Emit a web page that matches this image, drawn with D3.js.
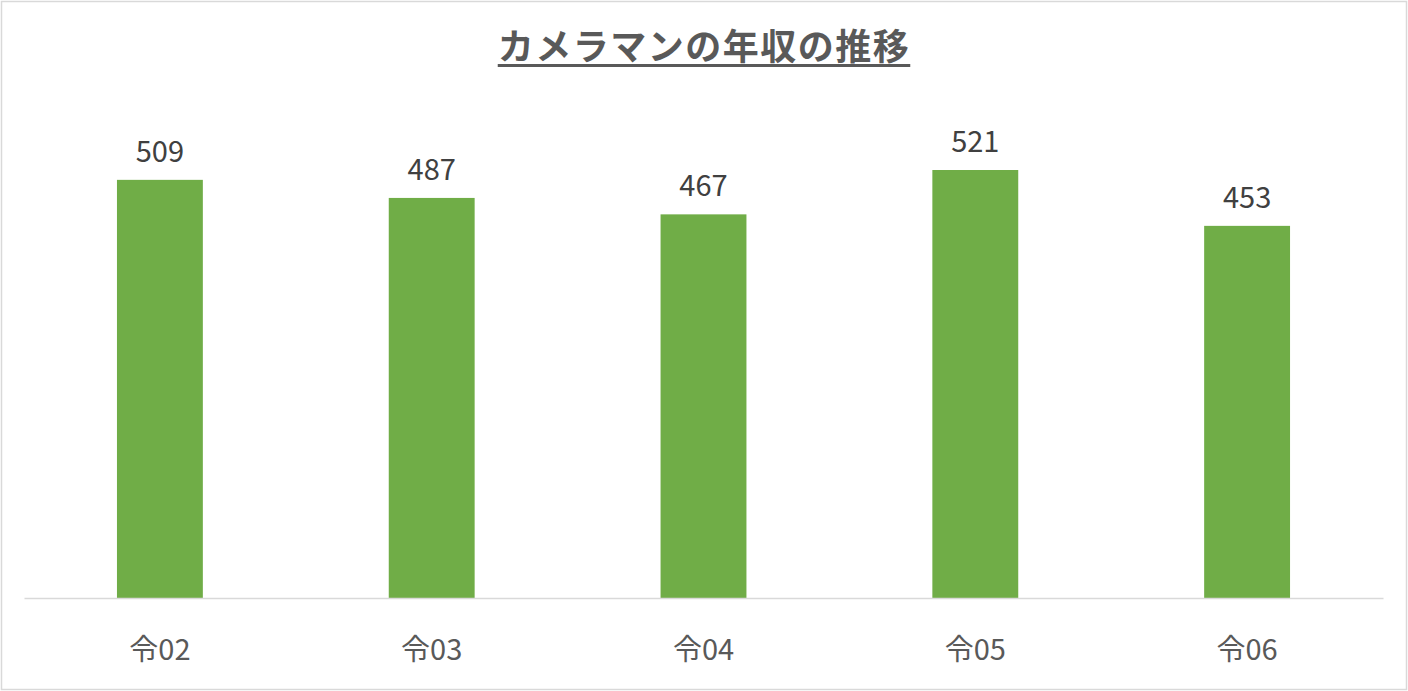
<!DOCTYPE html>
<html>
<head>
<meta charset="utf-8">
<script src="https://cdn.jsdelivr.net/npm/d3@7/dist/d3.min.js"></script>
<style>
  html, body { margin: 0; padding: 0; background: #fff; }
  svg { display: block; }
</style>
</head>
<body>
<svg id="chart" width="1408" height="691"></svg>
<script>
const categories = ['令02', '令03', '令04', '令05', '令06'];
const values = [509, 487, 467, 521, 453];
const title = 'カメラマンの年収の推移';

const width = 1408, height = 691;
const plotLeft = 24, plotRight = 1383, baseY = 598;
const font = '"Noto Sans CJK JP", "Open Sans", sans-serif';

const svg = d3.select('#chart');

// outer frame
svg.append('rect').attr('x', 1.5).attr('y', 1.5).attr('width', width - 3).attr('height', height - 3)
  .attr('fill', '#fff').attr('stroke', '#d9d9d9').attr('stroke-width', 1.5);

const x = d3.scaleBand().domain(categories).range([plotLeft, plotRight]).paddingInner(0.684).paddingOuter(0.342);
const y = d3.scaleLinear().domain([0, 600]).range([baseY, baseY - 600 * 0.8215]);

svg.selectAll('rect.bar').data(values).join('rect').attr('class', 'bar')
  .attr('x', (d, i) => x(categories[i]))
  .attr('y', d => y(d))
  .attr('width', x.bandwidth())
  .attr('height', d => y(0) - y(d))
  .attr('fill', '#70ad47');

svg.selectAll('text.val').data(values).join('text').attr('class', 'val')
  .attr('x', (d, i) => x(categories[i]) + x.bandwidth() / 2)
  .attr('y', d => y(d) - 18)
  .attr('text-anchor', 'middle')
  .attr('font-family', font).attr('font-size', 29).attr('fill', '#404040')
  .text(d => d);

// baseline axis
const axis = d3.axisBottom(x).tickSize(0).tickPadding(0);
const gAxis = svg.append('g').attr('transform', `translate(0,${baseY})`).call(axis);
gAxis.select('.domain').attr('stroke', '#d9d9d9').attr('stroke-width', 1.5);
gAxis.selectAll('.tick text').attr('dy', null).attr('y', 62)
  .attr('font-family', font).attr('font-size', 29).attr('fill', '#595959');

// title
const t = svg.append('text').attr('x', width / 2).attr('y', 60).attr('text-anchor', 'middle')
  .attr('font-family', font).attr('font-size', 36).attr('font-weight', 'bold').attr('fill', '#595959')
  .attr('letter-spacing', 1.5)
  .text(title);
const bb = t.node().getBBox();
svg.append('rect').attr('x', bb.x).attr('y', 64).attr('width', bb.width).attr('height', 3).attr('fill', '#595959');
</script>
</body>
</html>
